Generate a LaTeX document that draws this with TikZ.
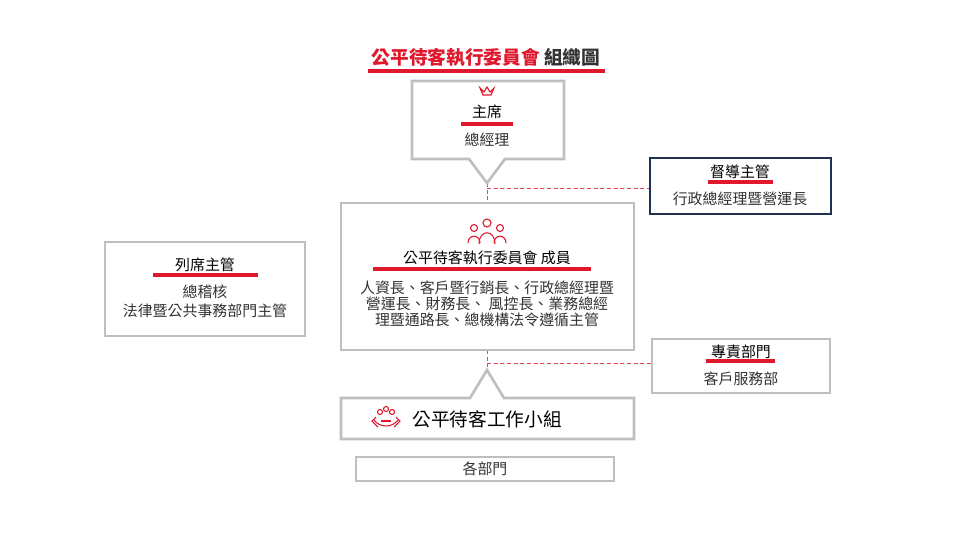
\documentclass[tikz,border=0pt]{standalone}
\usepackage{fontspec}
\setmainfont{Noto Sans CJK TC}
\begin{document}
\begin{tikzpicture}[x=0.75pt,y=-0.75pt,
  box/.style={draw=boxgray,line width=2pt,fill=white},
  ul/.style={draw=redc,line width=2.6pt},
  dashln/.style={draw=redc!80,line width=0.7pt,dash pattern=on 3pt off 2pt},
  txt/.style={font=\fontsize{11.2pt}{12pt}\selectfont,text=textc,inner sep=0pt},
  hd/.style={font=\fontsize{11.2pt}{13pt}\selectfont,text=black,inner sep=0pt}]
\definecolor{redc}{HTML}{E0182D}
\definecolor{boxgray}{HTML}{BFBFBF}
\definecolor{textc}{HTML}{333333}
\definecolor{navy}{HTML}{1F3050}
\useasboundingbox (0,0) rectangle (960,540);
% title
\node[inner sep=0pt,font=\fontsize{14pt}{16pt}\selectfont\bfseries] (title) at (486,57) {\textcolor{redc}{公平待客執行委員會}\ \textcolor{textc}{組織圖}};
\draw[ul] (368,71) -- (605,71);
% dashed connectors
\coordinate (a1) at (487,183); \coordinate (a2) at (487,203);
\coordinate (h1) at (487,188); \coordinate (h2) at (650,188);
\coordinate (b1) at (487,350); \coordinate (b2) at (487,372);
\coordinate (g1) at (487,363); \coordinate (g2) at (652,363);
\draw[dashln] (a1) -- (a2); \draw[dashln] (h1) -- (h2);
\draw[dashln] (b1) -- (b2); \draw[dashln] (g1) -- (g2);
% chair callout
\draw[box] (412,81) -- (564,81) -- (564,159) -- (505,159) -- (487,183) -- (469,159) -- (412,159) -- cycle;
\draw[redc,line width=0.8pt] (480,88) -- (483,95) -- (491,95) -- (494,88) -- (490,92) -- (487,87) -- (484,92) -- cycle;
\node[hd] (chair) at (487,112) {主席};
\draw[ul] (461,124) -- (513,124);
\node[txt] (gm) at (487,140) {總經理};
% supervisor
\node[draw=navy,line width=1.5pt,minimum width=181pt*0.75,minimum height=56pt*0.75,fill=white] (sup) at (740.5,186) {};
\node[hd] (supt) at (740,172) {督導主管};
\draw[ul] (708,182) -- (773,182);
\node[txt] (supb) at (740,199) {行政總經理暨營運長};
% members
\draw[box] (341,203) rectangle (634,350);
\begin{scope}[redc,line width=0.8pt]
\foreach \cx/\cy/\r in {474/228/3.5,500/228/3.5,487/223/4}{
  \draw (\cx,\cy) circle (\r);
}
\draw (468,243) .. controls (468,234) and (480,234) .. (480,243);
\draw (494,243) .. controls (494,234) and (506,234) .. (506,243);
\draw (479,244) .. controls (479,229) and (495,229) .. (495,244);
\end{scope}
\node[hd] (memt) at (487,258) {公平待客執行委員會 成員};
\draw[ul] (373,269) -- (591,269);
\node[txt,align=center] (memb) at (487,304) {人資長、客戶暨行銷長、行政總經理暨\\營運長、財務長、 風控長、業務總經\\理暨通路長、總機構法令遵循主管};
% attending
\draw[box] (105,242) rectangle (305,336);
\node[hd] (att) at (205,265) {列席主管};
\draw[ul] (153,275) -- (258,275);
\node[txt,align=center,font=\fontsize{11.2pt}{14pt}\selectfont] (attb) at (205,301) {總稽核\\法律暨公共事務部門主管};
% dedicated
\draw[box] (652,339) rectangle (830,393);
\node[hd] (ded) at (741,352) {專責部門};
\draw[ul] (706,361) -- (775,361);
\node[txt] (dedb) at (741,379) {客戶服務部};
% working group
\draw[box] (341,398) -- (470,398) -- (487,370) -- (504,398) -- (634,398) -- (634,439) -- (341,439) -- cycle;
\begin{scope}[redc,line width=0.8pt]
\draw (380,412) circle (2.5); \draw (386,409) circle (2.5); \draw (392,412) circle (2.5);
\draw (374,420) .. controls (380,428) and (392,428) .. (398,420);
\draw (376,417) -- (372,421) -- (378,427); \draw (396,417) -- (400,421) -- (394,427);
\draw (381,421) -- (391,421);
\end{scope}
\node[inner sep=0pt,font=\fontsize{14pt}{16pt}\selectfont,text=black] (wg) at (487,419) {公平待客工作小組};
% departments
\node[box,line width=1.8pt,minimum width=258pt*0.75,minimum height=24pt*0.75,inner sep=0pt] (dept) at (485,469) {};
\node[txt] (deptt) at (485,469) {各部門};
\end{tikzpicture}
\end{document}
